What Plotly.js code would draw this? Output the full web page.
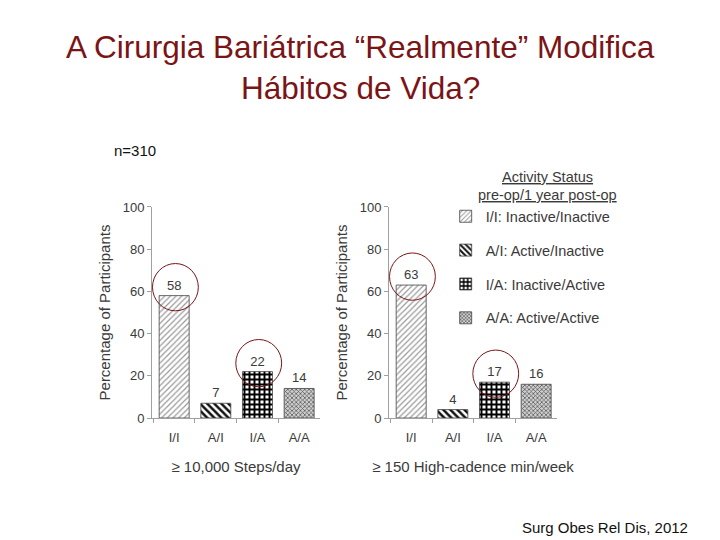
<!DOCTYPE html>
<html>
<head>
<meta charset="utf-8">
<script src="https://cdn.plot.ly/plotly-3.0.1.min.js"></script>
<style>html,body{margin:0;padding:0;background:#fff;}#chart{width:720px;height:540px;}</style>
</head>
<body>
<div id="chart"></div>
<script>
const categories = ["I/I", "A/I", "I/A", "A/A"];
const legendNames = ["I/I: Inactive/Inactive", "A/I: Active/Inactive", "I/A: Inactive/Active", "A/A: Active/Active"];
const stepsValues = [58, 7, 22, 14];
const cadenceValues = [63, 4, 17, 16];
const yTicks = [0, 20, 40, 60, 80, 100];
const circledIdx = [0, 2];

const patterns = [
  {shape: "/", fgcolor: "#9a9a9a", bgcolor: "#ffffff", size: 4, solidity: 0.3},
  {shape: "\\", fgcolor: "#111111", bgcolor: "#ffffff", size: 5, solidity: 0.5},
  {shape: "+", fgcolor: "#000000", bgcolor: "#ffffff", size: 5, solidity: 0.62},
  {shape: "x", fgcolor: "#4a4a4a", bgcolor: "#d0d0d0", size: 3, solidity: 0.4}
];

const txtColor = "#3a3a3a";
const font = "Liberation Sans, Arial, sans-serif";
const traces = [];
function addPanel(vals, xa, ya, showLeg) {
  categories.forEach((c, i) => {
    traces.push({
      type: "bar", x: [c], y: [vals[i]], xaxis: xa, yaxis: ya,
      name: legendNames[i], legendgroup: "g" + i, showlegend: showLeg,
      width: 0.72,
      marker: {color: patterns[i].bgcolor, pattern: patterns[i], line: {color: "#444", width: 0.8}},
      text: [String(vals[i])], textposition: "outside", cliponaxis: false,
      textfont: {family: font, size: 13, color: txtColor},
      hoverinfo: "x+y"
    });
  });
}
addPanel(stepsValues, "x", "y", true);
addPanel(cadenceValues, "x2", "y2", false);

const axisLine = "#a0a0a0";
function xAxis(domain, anchor, title) {
  return {domain: domain, anchor: anchor, type: "category", categoryorder: "array", categoryarray: categories,
    showline: true, linecolor: axisLine, linewidth: 1, ticks: "outside", tickson: "boundaries", ticklen: 4, tickcolor: axisLine,
    ticklabelstandoff: 7,
    tickfont: {family: font, size: 13, color: txtColor}, showgrid: false, zeroline: false, fixedrange: true,
    title: {text: title, font: {family: font, size: 15, color: txtColor}, standoff: 17}};
}
function yAxis(domain, anchor) {
  return {domain: domain, anchor: anchor, range: [0, 100], tickvals: yTicks,
    showline: true, linecolor: axisLine, linewidth: 1, ticks: "outside", ticklen: 4, tickcolor: axisLine,
    tickfont: {family: font, size: 13, color: txtColor}, showgrid: false, zeroline: false, fixedrange: true,
    title: {text: "Percentage of Participants", font: {family: font, size: 15, color: txtColor}, standoff: 8}};
}

const shapes = [];
function addCircles(vals, xr, yr) {
  circledIdx.forEach(i => {
    const cy = vals[i] + 4;
    shapes.push({type: "circle", xref: xr, yref: yr, x0: i - 0.52, x1: i + 0.58, y0: cy - 11.2, y1: cy + 11.2,
      line: {color: "#7a1418", width: 1}});
  });
}
addCircles(stepsValues, "x", "y");
addCircles(cadenceValues, "x2", "y2");

const layout = {
  width: 720, height: 540, margin: {l: 0, r: 0, t: 0, b: 0},
  paper_bgcolor: "#fff", plot_bgcolor: "#fff",
  barmode: "overlay", showlegend: true,
  xaxis: xAxis([0.2111, 0.4444], "y", "≥ 10,000 Steps/day"),
  yaxis: yAxis([0.2259, 0.6167], "x"),
  xaxis2: xAxis([0.5403, 0.7736], "y2", "≥ 150 High-cadence min/week"),
  yaxis2: yAxis([0.2259, 0.6167], "x2"),
  legend: {x: 0.619, y: 0.629, xanchor: "left", yanchor: "top", traceorder: "grouped", tracegroupgap: 12,
    font: {family: font, size: 14.5, color: txtColor}, bgcolor: "rgba(0,0,0,0)", itemclick: false},
  shapes: shapes,
  annotations: [
    {text: "A Cirurgia Bariátrica “Realmente” Modifica", xref: "paper", yref: "paper", x: 0.5, y: 1 - 47/540, showarrow: false,
      font: {family: font, size: 31.5, color: "#7a1416"}, xanchor: "center", yanchor: "middle"},
    {text: "Hábitos de Vida?", xref: "paper", yref: "paper", x: 0.5, y: 1 - 88/540, showarrow: false,
      font: {family: font, size: 31.5, color: "#7a1416"}, xanchor: "center", yanchor: "middle"},
    {text: "n=310", xref: "paper", yref: "paper", x: 112/720, y: 1 - 150/540, showarrow: false,
      font: {family: font, size: 15, color: "#111"}, xanchor: "left", yanchor: "middle"},
    {text: "<u>Activity Status</u>", xref: "paper", yref: "paper", x: 547/720, y: 1 - 177/540, showarrow: false,
      font: {family: font, size: 14.5, color: txtColor}, xanchor: "center", yanchor: "middle"},
    {text: "<u>pre-op/1 year post-op</u>", xref: "paper", yref: "paper", x: 547/720, y: 1 - 195/540, showarrow: false,
      font: {family: font, size: 14.5, color: txtColor}, xanchor: "center", yanchor: "middle"},
    {text: "Surg Obes Rel Dis, 2012", xref: "paper", yref: "paper", x: 605/720, y: 1 - 527/540, showarrow: false,
      font: {family: font, size: 15, color: "#111"}, xanchor: "center", yanchor: "middle"}
  ]
};

Plotly.newPlot("chart", traces, layout, {displayModeBar: false, staticPlot: true});
</script>
</body>
</html>
